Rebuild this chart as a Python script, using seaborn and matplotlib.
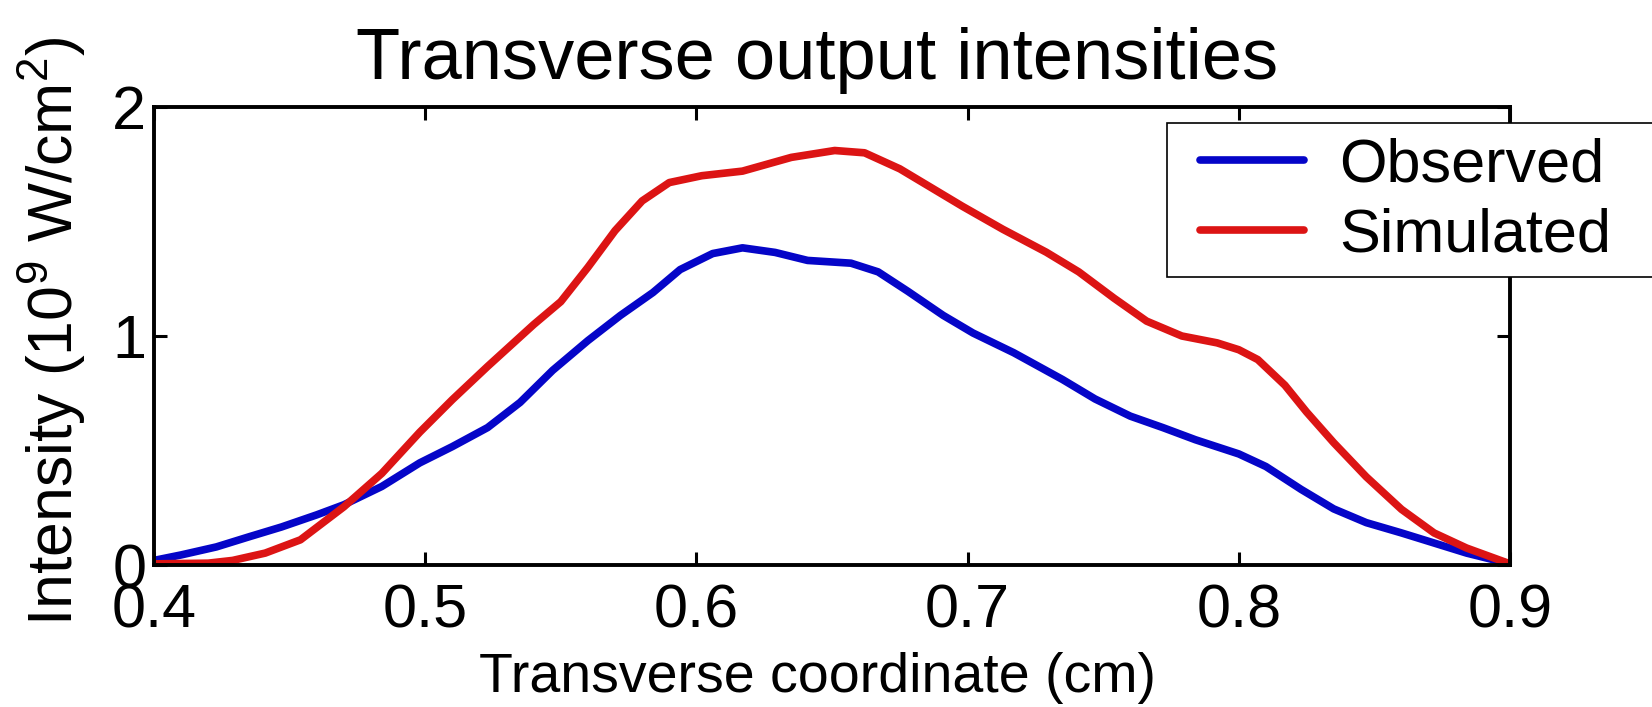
import numpy as np
import pandas as pd
import matplotlib
matplotlib.use("Agg")
import matplotlib.pyplot as plt
from matplotlib.lines import Line2D
from matplotlib.patches import Rectangle
import seaborn as sns

# ---- data ----
obs_x = [0.400, 0.410, 0.423, 0.435, 0.447, 0.460, 0.470, 0.484, 0.498, 0.510,
         0.523, 0.535, 0.547, 0.560, 0.572, 0.584, 0.594, 0.606, 0.617, 0.629,
         0.641, 0.657, 0.667, 0.678, 0.691, 0.702, 0.717, 0.735, 0.747, 0.760,
         0.772, 0.784, 0.800, 0.810, 0.823, 0.835, 0.847, 0.860, 0.872, 0.884,
         0.900]
obs_y = [0.020, 0.044, 0.079, 0.123, 0.166, 0.219, 0.263, 0.343, 0.446, 0.517,
         0.600, 0.710, 0.850, 0.980, 1.090, 1.190, 1.290, 1.360, 1.385, 1.365,
         1.330, 1.318, 1.280, 1.195, 1.090, 1.013, 0.927, 0.810, 0.725, 0.650,
         0.600, 0.547, 0.485, 0.430, 0.330, 0.245, 0.185, 0.140, 0.096, 0.052,
         0.005]

sim_x = [0.400, 0.420, 0.429, 0.441, 0.454, 0.470, 0.484, 0.498, 0.510, 0.523,
         0.540, 0.550, 0.560, 0.570, 0.580, 0.590, 0.602, 0.617, 0.635, 0.651,
         0.662, 0.675, 0.687, 0.698, 0.713, 0.729, 0.741, 0.754, 0.766, 0.779,
         0.792, 0.800, 0.807, 0.817, 0.825, 0.835, 0.847, 0.860, 0.872, 0.884,
         0.900]
sim_y = [0.005, 0.008, 0.020, 0.052, 0.110, 0.254, 0.400, 0.580, 0.722, 0.867,
         1.050, 1.150, 1.300, 1.460, 1.590, 1.670, 1.700, 1.720, 1.780, 1.810,
         1.800, 1.730, 1.645, 1.567, 1.466, 1.366, 1.280, 1.165, 1.065, 1.000,
         0.970, 0.940, 0.897, 0.785, 0.668, 0.534, 0.385, 0.243, 0.140, 0.074,
         0.005]

series_names = ["Observed", "Simulated"]
series_colors = ["#0505c8", "#dc1414"]
x_ticks = [0.4, 0.5, 0.6, 0.7, 0.8, 0.9]
x_tick_labels = ["0.4", "0.5", "0.6", "0.7", "0.8", "0.9"]
y_ticks = [0, 1, 2]
y_tick_labels = ["0", "1", "2"]

df = pd.concat([
    pd.DataFrame({"x": obs_x, "y": obs_y, "series": series_names[0]}),
    pd.DataFrame({"x": sim_x, "y": sim_y, "series": series_names[1]}),
], ignore_index=True)

sns.set_theme(style="white")
plt.rcParams["font.family"] = ["Liberation Sans", "DejaVu Sans"]
plt.rcParams["mathtext.default"] = "regular"
plt.rcParams["text.color"] = "black"
plt.rcParams["axes.labelcolor"] = "black"

W, H = 1652, 707
fig = plt.figure(figsize=(W / 100, H / 100), dpi=100)
L, R, T, B = 154, 1510, 107, 565
ax = fig.add_axes([L / W, 1 - B / H, (R - L) / W, (B - T) / H])

sns.lineplot(data=df, x="x", y="y", hue="series", palette=series_colors,
             hue_order=series_names, estimator=None, sort=False,
             linewidth=5.5, ax=ax, legend=False)
for ln in ax.lines:
    ln.set_solid_joinstyle("round")
    ln.set_solid_capstyle("round")

ax.set_xlim(0.4, 0.9)
ax.set_ylim(0, 2)
ax.set_xticks(x_ticks)
ax.set_xticklabels(x_tick_labels)
ax.set_yticks(y_ticks)
ax.set_yticklabels(y_tick_labels)

for s in ax.spines.values():
    s.set_visible(True)
    s.set_color("black")
    s.set_linewidth(2.8)

ax.tick_params(axis="both", which="major", direction="in", length=9.5, width=2.2,
               color="black", labelsize=44, labelcolor="black",
               top=True, right=True, bottom=True, left=True)
ax.tick_params(axis="x", pad=13)
ax.tick_params(axis="y", pad=5.5)

ax.set_title("Transverse output intensities", fontsize=52, pad=20, color="black",
             x=0.489)
ax.set_xlabel("Transverse coordinate (cm)", fontsize=40, color="black")
ax.xaxis.set_label_coords(0.489, -0.19)
ax.set_ylabel("Intensity (10$^9$ W/cm$^2$)", fontsize=45, color="black")
ax.yaxis.set_label_coords(-0.049, 0.51)

# legend frame (extends past the right edge of the figure, as in the reference)
frame = Rectangle((1167 / W, 1 - 277 / H), 0.4, (277 - 123) / H,
                  transform=fig.transFigure, facecolor="white", edgecolor="black",
                  linewidth=1.2, zorder=4, clip_on=False)
ax.add_patch(frame)

handles = [Line2D([], [], color=c, lw=5.5) for c in series_colors]
leg = ax.legend(handles, series_names, loc="upper left",
                bbox_to_anchor=(1200 / W, 1 - 137 / H),
                bbox_transform=fig.transFigure,
                fontsize=44, frameon=False, handlelength=1.7, handletextpad=0.57,
                labelspacing=0.22, borderpad=0, borderaxespad=0,
                labelcolor="black")
leg.set_zorder(5)

fig.savefig("out.png", dpi=100, facecolor="white")
